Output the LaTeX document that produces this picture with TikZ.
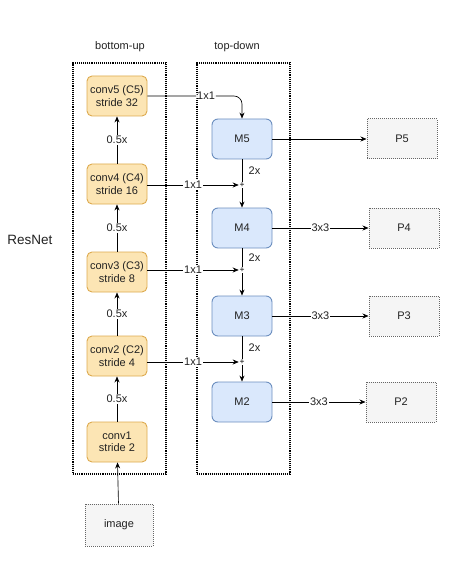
\documentclass[tikz,border=0pt]{standalone}
\usepackage{fontspec}
\setmainfont{Liberation Sans}
\usepackage{xcolor}
\usetikzlibrary{
	arrows.meta,
}

\definecolor{convfill}{HTML}{FCE5B4}
\definecolor{convline}{HTML}{DDAA4E}
\definecolor{mfill}{HTML}{DAE8FC}
\definecolor{mline}{HTML}{6C8EBF}
\definecolor{pfill}{HTML}{F5F5F5}
\definecolor{pline}{HTML}{666666}
\definecolor{txt}{HTML}{222222}

\tikzset{
	convbox/.style={draw=convline, fill=convfill, rounded corners=5pt, line width=0.9pt,
		minimum width=60pt, minimum height=40pt, align=center, inner sep=1pt, text=txt,
		font=\fontsize{11}{12.5}\selectfont},
	mbox/.style={draw=mline, fill=mfill, rounded corners=6pt, line width=0.9pt, text=txt,
		minimum width=60pt, minimum height=40pt, font=\fontsize{11}{12.5}\selectfont},
	pbox/.style={draw=pline, fill=pfill, densely dotted, line width=1pt, text=txt,
		minimum width=70pt, minimum height=40pt, font=\fontsize{11}{12.5}\selectfont},
	groupbox/.style={draw=black, densely dotted, line width=1.1pt, minimum width=93pt, minimum height=411pt},
	arr/.style={-{Stealth[length=6pt,width=5pt]}, line width=0.65pt},
	lbl/.style={fill=white, inner sep=1pt, text=txt, font=\fontsize{11}{12}\selectfont},
	sidelbl/.style={right, xshift=3pt, text=txt, font=\fontsize{11}{12}\selectfont},
	sumnode/.style={inner sep=0.6pt, font=\fontsize{8.5}{8.5}\selectfont},
}

\begin{document}
\begin{tikzpicture}[x=1pt, y=-1pt]
	\useasboundingbox (0,0) rectangle (463,561);

	% the two groups
	\node[groupbox] (bu) at (119.5,268.5) {};
	\node[groupbox] (td) at (243.5,268.5) {};
	\node[text=txt, font=\fontsize{11}{13}\selectfont] (butitle) at (120,47) {bottom-up};
	\node[text=txt, font=\fontsize{11}{13}\selectfont] (tdtitle) at (237,47) {top-down};
	\node[text=txt, font=\fontsize{13.5}{15}\selectfont] (resnet) at (30,240) {ResNet};

	% bottom-up path
	\node[convbox] (c5) at (117,96) {conv5 (C5)\\stride 32};
	\node[convbox] (c4) at (117,184) {conv4 (C4)\\stride 16};
	\node[convbox] (c3) at (117,272) {conv3 (C3)\\stride 8};
	\node[convbox] (c2) at (117,356) {conv2 (C2)\\stride 4};
	\node[convbox] (c1) at (117,442) {conv1\\stride 2};
	\node[pbox, minimum width=68pt, minimum height=42pt] (img) at (119,525) {image};

	\draw[arr] (img) -- (c1);
	\draw[arr] (c1) -- node[lbl] {0.5x} (c2);
	\draw[arr] (c2) -- node[lbl] {0.5x} (c3);
	\draw[arr] (c3) -- node[lbl] {0.5x} (c4);
	\draw[arr] (c4) -- node[lbl] {0.5x} (c5);

	% top-down path
	\node[mbox] (m5) at (242,139) {M5};
	\node[mbox] (m4) at (242,228) {M4};
	\node[mbox] (m3) at (242,316) {M3};
	\node[mbox] (m2) at (242,402) {M2};

	\node[sumnode] (s4) at (242,185) {+};
	\node[sumnode] (s3) at (242,270) {+};
	\node[sumnode] (s2) at (242,362) {+};

	\draw[arr, rounded corners=8pt] (c5.east) -| node[lbl, pos=0.31] {1x1} (m5.north);
	\draw[arr] (c4.east |- s4) -- node[lbl] {1x1} (s4);
	\draw[arr] (c3.east |- s3) -- node[lbl] {1x1} (s3);
	\draw[arr] (c2.east |- s2) -- node[lbl] {1x1} (s2);

	\draw[line width=0.65pt] (m5) -- node[sidelbl] {2x} (s4);
	\draw[arr] (s4) -- (m4);
	\draw[line width=0.65pt] (m4) -- node[sidelbl] {2x} (s3);
	\draw[arr] (s3) -- (m3);
	\draw[line width=0.65pt] (m3) -- node[sidelbl] {2x} (s2);
	\draw[arr] (s2) -- (m2);

	% outputs
	\node[pbox] (p5) at (402,139) {P5};
	\node[pbox] (p4) at (404,228) {P4};
	\node[pbox] (p3) at (404,316) {P3};
	\node[pbox] (p2) at (401,402) {P2};

	\draw[arr] (m5) -- (p5);
	\draw[arr] (m4) -- node[lbl] {3x3} (p4);
	\draw[arr] (m3) -- node[lbl] {3x3} (p3);
	\draw[arr] (m2) -- node[lbl] {3x3} (p2);
\end{tikzpicture}
\end{document}
